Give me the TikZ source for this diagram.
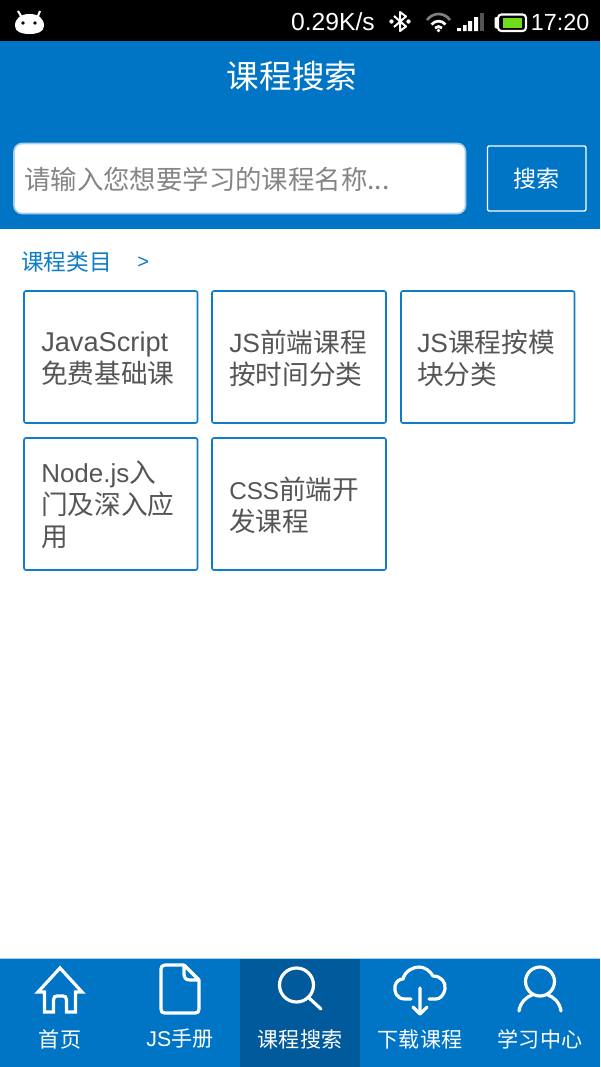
\documentclass[tikz,border=0pt]{standalone}
\usepackage{fontspec}
\setmainfont{Noto Sans CJK SC}
\newfontfamily\latinui{Liberation Sans}
\definecolor{bluebar}{HTML}{0075C5}
\definecolor{bluedark}{HTML}{005A9C}
\definecolor{cardblue}{HTML}{0F7CC8}
\definecolor{cardtext}{HTML}{555555}
\definecolor{hinttext}{HTML}{858585}
\definecolor{lightedge}{HTML}{A6D0EC}
\definecolor{batgreen}{HTML}{6FDD1A}
\definecolor{dimbar}{HTML}{555555}
\tikzset{
  card/.style={draw=cardblue,line width=1.2pt,fill=white,rounded corners=1.5pt},
  cardlabel/.style={anchor=west,align=left,text=cardtext,inner sep=0pt,font=\fontsize{20}{24}\selectfont},
  tablabel/.style={text=white,inner sep=0pt,font=\fontsize{15.8}{18}\selectfont},
  tabicon/.style={draw=white,line width=2.4pt,line join=round,line cap=round},
  statustext/.style={text=white,inner sep=0pt,font=\latinui\fontsize{17.5}{20}\selectfont}
}
\begin{document}
\begin{tikzpicture}[x=0.75pt,y=-0.75pt]
\useasboundingbox (0,0) rectangle (600,1067);
\fill[white] (0,0) rectangle (600,1067);
% status bar
\fill[black] (0,0) rectangle (600,41);
\fill[bluebar] (0,41) rectangle (600,228.5);
% android icon
\fill[white] (15,26) .. controls (15,18) and (21,14) .. (29.5,14) .. controls (38,14) and (44,18) .. (44,26) .. controls (44,32) and (37,34) .. (29.5,34) .. controls (22,34) and (15,32) .. (15,26) -- cycle;
\draw[white,line width=1.6pt] (21,16) -- (18,11) (38,16) -- (40,11);
\fill[black] (23,23) circle (1.8) (35,23) circle (1.8);
\node[statustext,anchor=east,font=\latinui\fontsize{18.5}{20}\selectfont] (speed) at (375,22) {0.29K/s};
% bluetooth
\draw[white,line width=1.5pt,line join=round] (394,16) -- (406,26.5) -- (400,31) -- (400,12) -- (406,16.5) -- (394,27);
\fill[white] (391.5,21.5) circle (2.2) (408.5,21.5) circle (2.2);
% wifi
\draw[gray,line width=2pt] (427,20) .. controls (433,12) and (444,12) .. (450,20);
\draw[white,line width=2pt] (431.5,24.5) .. controls (435.5,20) and (441.5,20) .. (445.5,24.5);
\draw[white,line width=2pt] (435,28) .. controls (437,26) and (440,26) .. (442,28);
\fill[white] (438.5,30.5) circle (1.8);
% signal
\fill[white] (457,28) rectangle (461,31) (463,25) rectangle (466.5,31) (468,21) rectangle (472,31) (474,17) rectangle (478,31);
\fill[dimbar] (480,13) rectangle (484,31);
% battery
\draw[white,line width=1.6pt,rounded corners=2.5pt] (498,14.5) rectangle (526,31);
\fill[white,rounded corners=1pt] (494.5,17) rectangle (498,28.5);
\fill[batgreen] (503,17.5) rectangle (522,28);
\node[statustext,anchor=east] (clock) at (589.5,22) {17:20};
% title
\node[text=white,inner sep=0pt,font=\fontsize{24.4}{28}\selectfont] (title) at (292,76) {课程搜索};
% search box
\node[draw=lightedge,line width=1.2pt,fill=white,rounded corners=6pt,outer sep=0pt,minimum width=451.5*0.75pt,minimum height=70*0.75pt,inner sep=0pt,anchor=north west] (searchbox) at (14,143.5) {};
\node[anchor=west,text=hinttext,inner sep=0pt,font=\fontsize{19.8}{24}\selectfont] (hint) at (24,179) {请输入您想要学习的课程名称...};
\node[draw=white,line width=1pt,rounded corners=1pt,outer sep=0pt,minimum width=98.5*0.75pt,minimum height=65*0.75pt,inner sep=0pt,anchor=north west,text=white,font=\fontsize{17.3}{20}\selectfont] (searchbtn) at (487.5,146) {搜索};
% section
\node[anchor=west,text=cardblue,inner sep=0pt,font=\fontsize{17}{20}\selectfont] (section) at (21,262) {课程类目};
\node[anchor=west,text=cardblue,inner sep=0pt,font=\latinui\fontsize{15}{16}\selectfont] (chevron) at (137,263) {>};
% cards
\draw[card] (24,291) rectangle (197.5,423);
\draw[card] (212,291) rectangle (386,423);
\draw[card] (401,291) rectangle (574.5,423);
\draw[card] (24,438) rectangle (197.5,570);
\draw[card] (212,438) rectangle (386,570);
\node[cardlabel] (c1) at (41,359) {{\latinui\fontsize{20.4}{24}\selectfont JavaScript}\\免费基础课};
\node[cardlabel] (c2) at (229,358) {{\latinui\fontsize{19.8}{24}\selectfont JS}前端课程\\按时间分类};
\node[cardlabel] (c3) at (417,358) {{\latinui\fontsize{19.8}{24}\selectfont JS}课程按模\\块分类};
\node[cardlabel] (c4) at (41,505) {{\latinui\fontsize{19.5}{24}\selectfont Node.js}入\\门及深入应\\用};
\node[cardlabel] (c5) at (229,505) {{\latinui\fontsize{18.2}{24}\selectfont CSS}前端开\\发课程};
% tab bar
\fill[bluebar] (0,959) rectangle (600,1067);
\draw[lightedge,line width=0.75pt] (0,958.5) -- (600,958.5);
\fill[bluedark] (240,959) rectangle (360,1067);
% home
\draw[tabicon,line cap=butt,line join=miter] (60,968) -- (38,992) -- (44.5,992) -- (44.5,1012) -- (53.5,1012) -- (53.5,1000) .. controls (53.5,997) and (55,996) .. (57,996) -- (63,996) .. controls (65,996) and (66.5,997) .. (66.5,1000) -- (66.5,1012) -- (75.5,1012) -- (75.5,992) -- (82,992) -- cycle;
% doc
\draw[tabicon] (184,965) -- (165,965) .. controls (162,965) and (161,967) .. (161,969) -- (161,1009) .. controls (161,1012) and (162,1013) .. (165,1013) -- (195,1013) .. controls (198,1013) and (199,1012) .. (199,1009) -- (199,980) -- (184,965) -- (184,974) .. controls (184,978) and (186,980) .. (190,980) -- (199,980);
% magnifier
\draw[tabicon] (296.5,985) circle (17);
\draw[tabicon] (308,997) -- (321,1009);
% cloud
\draw[tabicon] (411,999) -- (405,999) .. controls (396,999) and (394,991) .. (395,986) .. controls (396,981) and (400,979) .. (403,979) .. controls (405,971) and (413,967) .. (419,967) .. controls (425,967) and (430,971) .. (433,976) .. controls (441,976) and (446,982) .. (445,989) .. controls (444,995) and (440,999) .. (436,999) -- (429,999);
\draw[tabicon] (420,988) -- (420,1014) (413,1007) -- (420,1014) -- (427,1007);
% person
\draw[tabicon] (540,981.5) circle (14.5);
\draw[tabicon] (519,1011) .. controls (520,1003) and (526,997) .. (532,995);
\draw[tabicon] (561,1011) .. controls (560,1003) and (554,997) .. (548,995);
% tab labels
\node[tablabel] (t1) at (60,1039) {首页};
\node[tablabel] (t2) at (180,1039) {{\latinui\fontsize{16}{18}\selectfont JS}手册};
\node[tablabel] (t3) at (300,1039) {课程搜索};
\node[tablabel] (t4) at (420,1039) {下载课程};
\node[tablabel] (t5) at (540,1039) {学习中心};
\end{tikzpicture}
\end{document}
